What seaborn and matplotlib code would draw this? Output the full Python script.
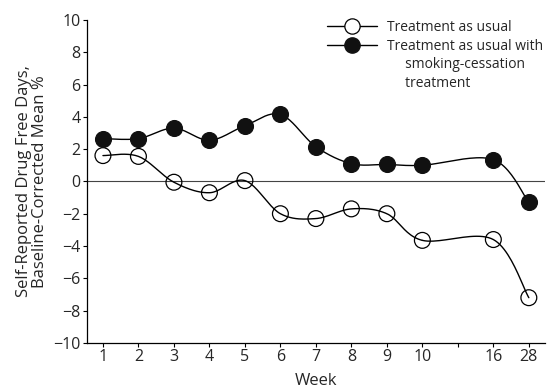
import numpy as np
import seaborn as sns
import matplotlib.pyplot as plt
from matplotlib.lines import Line2D

weeks = ['1', '2', '3', '4', '5', '6', '7', '8', '9', '10', '16', '28']
# slot 11 is left empty between week 10 and week 16
week_pos = [1, 2, 3, 4, 5, 6, 7, 8, 9, 10, 12, 13]
usual = [1.6, 1.55, -0.05, -0.7, 0.05, -2.0, -2.3, -1.7, -2.0, -3.65, -3.6, -7.2]
usual_smoking = [2.65, 2.65, 3.3, 2.55, 3.45, 4.15, 2.15, 1.1, 1.05, 1.0, 1.35, -1.3]


def smooth(x, y, n=24):
    # Catmull-Rom curve through the points, for the drawn line only
    x = np.asarray(x, float)
    y = np.asarray(y, float)
    px = np.concatenate([[x[0]], x, [x[-1]]])
    py = np.concatenate([[y[0]], y, [y[-1]]])
    t = np.linspace(0, 1, n)[:, None]
    xs, ys = [], []
    for i in range(1, len(px) - 2):
        for p, out in ((px, xs), (py, ys)):
            p0, p1, p2, p3 = p[i - 1], p[i], p[i + 1], p[i + 2]
            seg = 0.5 * ((2 * p1) + (-p0 + p2) * t
                         + (2 * p0 - 5 * p1 + 4 * p2 - p3) * t ** 2
                         + (-p0 + 3 * p1 - 3 * p2 + p3) * t ** 3)
            out.append(seg.ravel())
    return np.concatenate(xs), np.concatenate(ys)


sns.set_theme(style="ticks")
plt.rcParams['font.family'] = ['Open Sans', 'DejaVu Sans']
plt.rcParams['font.size'] = 10

fig = plt.figure(figsize=(5.47, 3.91), dpi=100)
ax = fig.add_axes([0.159, 0.123, 0.837, 0.826])

ax.axhline(0, color='#444444', lw=0.8, zorder=1)

for vals in (usual, usual_smoking):
    sx, sy = smooth(week_pos, vals)
    sns.lineplot(x=sx, y=sy, ax=ax, color='black', lw=1.0, sort=False,
                 estimator=None, zorder=2)

sns.scatterplot(x=week_pos, y=usual, ax=ax, s=130, marker='o',
                facecolor='none', edgecolor='black', linewidth=0.9, zorder=3)
sns.scatterplot(x=week_pos, y=usual_smoking, ax=ax, s=130, marker='o',
                color='#111111', edgecolor='#111111', linewidth=0.9, zorder=3)

ax.set_xlim(0.55, 13.45)
ax.set_ylim(-10, 10)
ax.set_xticks(list(range(1, 14)))
ax.set_xticklabels(weeks[:10] + [''] + weeks[10:])
ax.set_yticks(range(-10, 11, 2))
ax.tick_params(axis='both', labelsize=11.5, length=3, width=0.8, color='black', pad=1.5)
for side in ('top', 'right'):
    ax.spines[side].set_visible(False)
for side in ('left', 'bottom'):
    ax.spines[side].set_color('black')
    ax.spines[side].set_linewidth(0.9)

ax.set_xlabel('Week', fontsize=12, labelpad=6)
ax.set_ylabel('Self-Reported Drug Free Days,\nBaseline-Corrected Mean %',
              fontsize=12, labelpad=4, linespacing=1.0)

handles = [
    Line2D([], [], color='black', lw=1.0, marker='o', ms=11,
           mfc='white', mec='black', mew=0.9),
    Line2D([], [], color='black', lw=1.0, marker='o', ms=11,
           mfc='#111111', mec='#111111'),
    Line2D([], [], color='none'),
    Line2D([], [], color='none'),
]
labels = ['Treatment as usual', 'Treatment as usual with',
          '     smoking-cessation', '     treatment']
fig.legend(handles, labels, loc='upper left', bbox_to_anchor=(0.598, 0.949),
           frameon=False, fontsize=10, handlelength=3.6, handletextpad=0.7,
           labelspacing=0.26, borderpad=0, borderaxespad=0)

fig.savefig('out.png', dpi=100)
